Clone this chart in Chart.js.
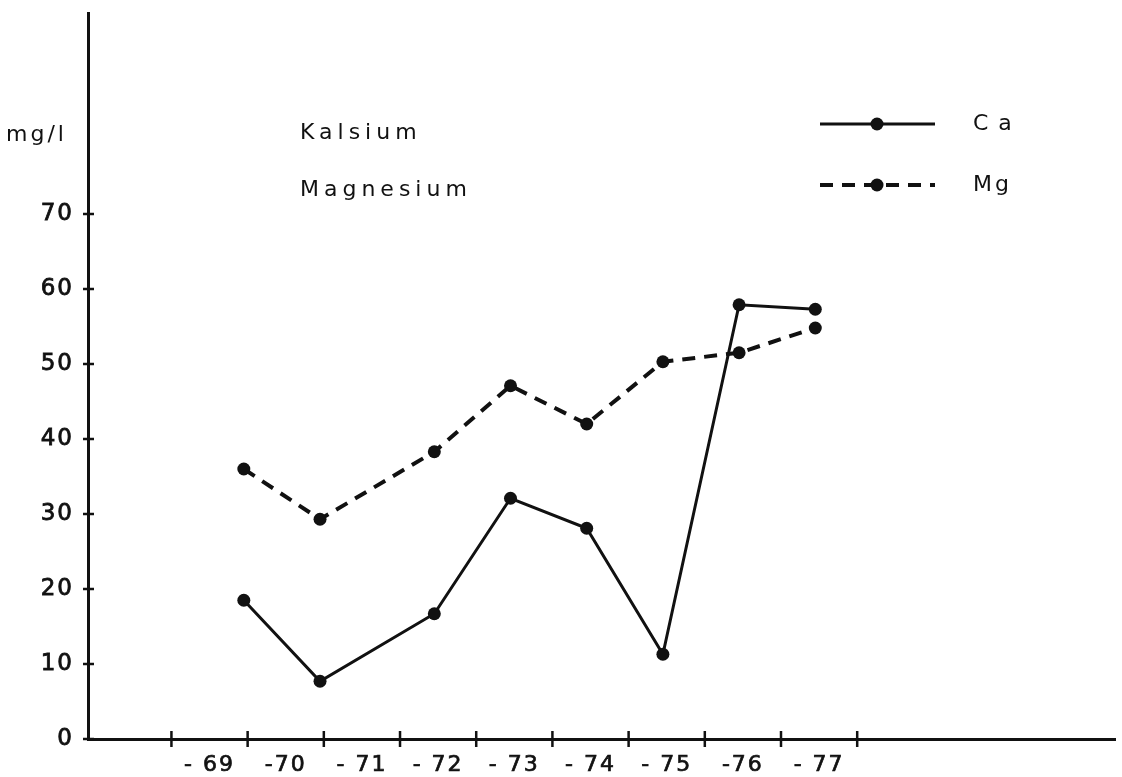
<!DOCTYPE html>
<html>
<head>
<meta charset="utf-8">
<script src="https://cdn.jsdelivr.net/npm/chart.js@4.4.1/dist/chart.umd.min.js"></script>
<style>
  html, body { margin: 0; padding: 0; background: #fff; overflow: hidden; }
  #wrap { width: 1122px; height: 777px; position: relative; }
  canvas { display: block; }
</style>
</head>
<body>
<div id="wrap"><canvas id="myChart"></canvas></div>
<script>
// year labels sit between the tick marks
const years = ['- 69', '-70', '- 71', '- 72', '- 73', '- 74', '- 75', '-76', '- 77'];
// where each sample sits on the year axis (tick index units)
const samplePos = [0.95, 1.95, 3.45, 4.45, 5.45, 6.45, 7.45, 8.45];
const calcium = [18.5, 7.7, 16.7, 32.1, 28.1, 11.3, 57.9, 57.3];
const magnesium = [36.0, 29.3, 38.3, 47.1, 42.0, 50.3, 51.5, 54.8];
const yTicks = [0, 10, 20, 30, 40, 50, 60, 70];
const yearTicks = [0, 1, 2, 3, 4, 5, 6, 7, 8, 9];

const FONT = '"DejaVu Sans", sans-serif';

const toPoints = (vals) => vals.map((v, i) => ({ x: samplePos[i], y: v }));

const spacing = {
    id: 'spacing',
    beforeDraw(chart) {
        chart.ctx.letterSpacing = '2px';
    }
};

const paperBits = {
    id: 'paperBits',
    afterDraw(chart) {
        const ctx = chart.ctx;
        const xs = chart.scales.x, ys = chart.scales.y;
        ctx.save();
        ctx.strokeStyle = '#111';
        ctx.lineWidth = 2.5;
        // crossing tick marks
        const ax = xs.getPixelForValue(xs.min);
        yTicks.forEach(v => {
            const py = ys.getPixelForValue(v);
            ctx.beginPath(); ctx.moveTo(ax - 5, py); ctx.lineTo(ax + 6, py); ctx.stroke();
        });
        const ay = ys.getPixelForValue(0);
        yearTicks.forEach(k => {
            const px = xs.getPixelForValue(k);
            ctx.beginPath(); ctx.moveTo(px, ay - 8); ctx.lineTo(px, ay + 8); ctx.stroke();
        });

        // texts
        ctx.fillStyle = '#111';
        ctx.textBaseline = 'middle';
        ctx.textAlign = 'left';
        ctx.font = '22px ' + FONT;
        ctx.letterSpacing = '3px';
        ctx.fillText('mg/l', 6, 135);
        ctx.letterSpacing = '5px';
        ctx.fillText('Kalsium', 300, 133);
        ctx.fillText('Magnesium', 300, 190);
        ctx.letterSpacing = '10px';
        ctx.fillText('Ca', 973, 124);
        ctx.letterSpacing = '3px';
        ctx.fillText('Mg', 973, 185);

        // legend samples
        const ds = chart.data.datasets;
        [[ds[0], 124], [ds[1], 185]].forEach(([d, y]) => {
            ctx.setLineDash(d.borderDash || []);
            ctx.lineWidth = d.borderWidth;
            ctx.beginPath(); ctx.moveTo(820, y); ctx.lineTo(935, y); ctx.stroke();
            ctx.setLineDash([]);
            ctx.beginPath(); ctx.arc(877, y, d.pointRadius, 0, Math.PI * 2); ctx.fill();
        });
        ctx.restore();
    }
};

document.addEventListener('DOMContentLoaded', function () {
    const ctx = document.getElementById('myChart').getContext('2d');
    new Chart(ctx, {
        type: 'line',
        data: {
            datasets: [{
                label: 'Ca',
                data: toPoints(calcium),
                borderColor: '#111',
                backgroundColor: '#111',
                borderWidth: 3,
                pointRadius: 6.5,
                pointBorderWidth: 0,
                tension: 0
            }, {
                label: 'Mg',
                data: toPoints(magnesium),
                borderColor: '#111',
                backgroundColor: '#111',
                borderWidth: 4,
                borderDash: [13, 9],
                pointRadius: 6.5,
                pointBorderWidth: 0,
                tension: 0
            }]
        },
        options: {
            responsive: true,
            maintainAspectRatio: false,
            animation: false,
            layout: { padding: { top: 13, right: -6, left: 0, bottom: 0 } },
            plugins: { legend: { display: false }, tooltip: { enabled: false } },
            scales: {
                x: {
                    type: 'linear',
                    min: -1.095,
                    max: 12.39,
                    grid: { display: false, drawTicks: false },
                    border: { display: true, color: '#111', width: 3 },
                    afterBuildTicks: (s) => { s.ticks = years.map((_, i) => ({ value: i + 0.5 })); },
                    afterFit: (s) => { s.height = 38; s.paddingLeft = 0; s.paddingRight = 0; },
                    ticks: {
                        autoSkip: false,
                        maxRotation: 0,
                        padding: 13,
                        color: '#111',
                        textStrokeColor: '#111',
                        textStrokeWidth: 0.7,
                        font: { family: FONT, size: 22 },
                        callback: (v) => years[Math.round(v - 0.5)]
                    }
                },
                y: {
                    min: 0,
                    max: 96.8,
                    grid: { display: false, drawTicks: false },
                    border: { display: true, color: '#111', width: 3 },
                    afterBuildTicks: (s) => { s.ticks = yTicks.map(v => ({ value: v })); },
                    afterFit: (s) => { s.width = 88; s.paddingTop = 0; s.paddingBottom = 0; },
                    ticks: {
                        padding: 14,
                        color: '#111',
                        textStrokeColor: '#111',
                        textStrokeWidth: 0.8,
                        font: { family: FONT, size: 23 }
                    }
                }
            }
        },
        plugins: [spacing, paperBits]
    });
});
</script>
</body>
</html>
